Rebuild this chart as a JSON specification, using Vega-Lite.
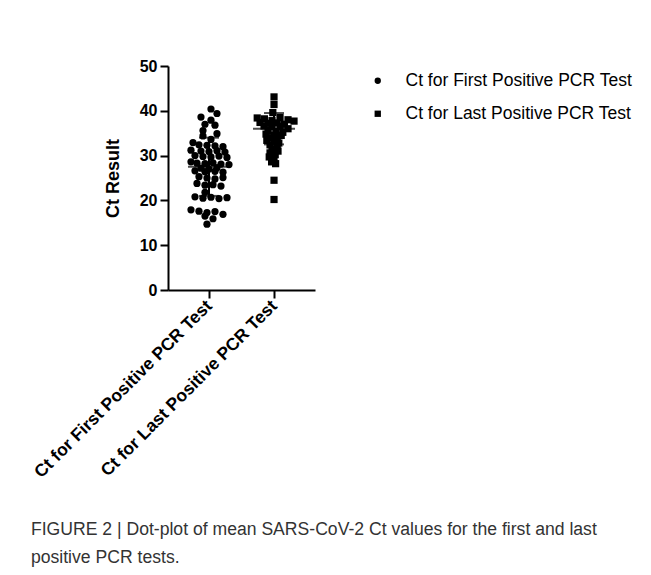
{
  "$schema": "https://vega.github.io/schema/vega-lite/v6.json",
  "width": 147,
  "height": 224,
  "padding": {"left": 30, "top": 58, "right": 5, "bottom": 5},
  "background": "white",
  "title": {
    "text": ["FIGURE 2 | Dot-plot of mean SARS-CoV-2 Ct values for the first and last", "positive PCR tests."],
    "orient": "bottom",
    "anchor": "start",
    "frame": "bounds",
    "fontSize": 17.6,
    "fontWeight": "normal",
    "font": "Liberation Sans",
    "color": "#333333",
    "lineHeight": 28,
    "offset": 40,
    "dx": 0
  },
  "datasets": {
    "points": [
      {"group": "Ct for First Positive PCR Test", "ct": 40.4, "offset": 0.5},
      {"group": "Ct for First Positive PCR Test", "ct": 39.4, "offset": 2},
      {"group": "Ct for First Positive PCR Test", "ct": 38.6, "offset": -2},
      {"group": "Ct for First Positive PCR Test", "ct": 37.9, "offset": 0.5},
      {"group": "Ct for First Positive PCR Test", "ct": 37.0, "offset": -1},
      {"group": "Ct for First Positive PCR Test", "ct": 36.8, "offset": 1.5},
      {"group": "Ct for First Positive PCR Test", "ct": 35.6, "offset": -1.5},
      {"group": "Ct for First Positive PCR Test", "ct": 34.9, "offset": 2},
      {"group": "Ct for First Positive PCR Test", "ct": 34.4, "offset": -1.5},
      {"group": "Ct for First Positive PCR Test", "ct": 33.6, "offset": 0.5},
      {"group": "Ct for First Positive PCR Test", "ct": 32.9, "offset": -4},
      {"group": "Ct for First Positive PCR Test", "ct": 32.4, "offset": -2.5},
      {"group": "Ct for First Positive PCR Test", "ct": 32.3, "offset": -0.5},
      {"group": "Ct for First Positive PCR Test", "ct": 32.2, "offset": 1.5},
      {"group": "Ct for First Positive PCR Test", "ct": 32.0, "offset": 3.5},
      {"group": "Ct for First Positive PCR Test", "ct": 31.2, "offset": -4.5},
      {"group": "Ct for First Positive PCR Test", "ct": 31.0, "offset": -2},
      {"group": "Ct for First Positive PCR Test", "ct": 30.9, "offset": 0},
      {"group": "Ct for First Positive PCR Test", "ct": 31.1, "offset": 2},
      {"group": "Ct for First Positive PCR Test", "ct": 30.8, "offset": 4},
      {"group": "Ct for First Positive PCR Test", "ct": 30.0, "offset": -3.5},
      {"group": "Ct for First Positive PCR Test", "ct": 29.8, "offset": -1.5},
      {"group": "Ct for First Positive PCR Test", "ct": 29.7, "offset": 0.5},
      {"group": "Ct for First Positive PCR Test", "ct": 29.9, "offset": 2.5},
      {"group": "Ct for First Positive PCR Test", "ct": 29.6, "offset": 4.5},
      {"group": "Ct for First Positive PCR Test", "ct": 28.6, "offset": -4.5},
      {"group": "Ct for First Positive PCR Test", "ct": 28.3, "offset": -3},
      {"group": "Ct for First Positive PCR Test", "ct": 28.2, "offset": -1},
      {"group": "Ct for First Positive PCR Test", "ct": 28.4, "offset": 1},
      {"group": "Ct for First Positive PCR Test", "ct": 28.1, "offset": 3},
      {"group": "Ct for First Positive PCR Test", "ct": 28.0, "offset": 5},
      {"group": "Ct for First Positive PCR Test", "ct": 27.2, "offset": -2},
      {"group": "Ct for First Positive PCR Test", "ct": 27.0, "offset": 0},
      {"group": "Ct for First Positive PCR Test", "ct": 27.3, "offset": 2},
      {"group": "Ct for First Positive PCR Test", "ct": 26.6, "offset": -3.5},
      {"group": "Ct for First Positive PCR Test", "ct": 26.4, "offset": -1},
      {"group": "Ct for First Positive PCR Test", "ct": 26.5, "offset": 1.5},
      {"group": "Ct for First Positive PCR Test", "ct": 26.3, "offset": 3.5},
      {"group": "Ct for First Positive PCR Test", "ct": 25.3, "offset": -2.5},
      {"group": "Ct for First Positive PCR Test", "ct": 25.0, "offset": -0.5},
      {"group": "Ct for First Positive PCR Test", "ct": 24.8, "offset": 1.5},
      {"group": "Ct for First Positive PCR Test", "ct": 25.1, "offset": 3.5},
      {"group": "Ct for First Positive PCR Test", "ct": 23.8, "offset": -3},
      {"group": "Ct for First Positive PCR Test", "ct": 23.4, "offset": -1},
      {"group": "Ct for First Positive PCR Test", "ct": 23.5, "offset": 1},
      {"group": "Ct for First Positive PCR Test", "ct": 23.2, "offset": 3},
      {"group": "Ct for First Positive PCR Test", "ct": 21.8, "offset": -1},
      {"group": "Ct for First Positive PCR Test", "ct": 20.8, "offset": -3.5},
      {"group": "Ct for First Positive PCR Test", "ct": 20.5, "offset": -1.5},
      {"group": "Ct for First Positive PCR Test", "ct": 20.7, "offset": 0.5},
      {"group": "Ct for First Positive PCR Test", "ct": 20.4, "offset": 2.5},
      {"group": "Ct for First Positive PCR Test", "ct": 20.6, "offset": 4.5},
      {"group": "Ct for First Positive PCR Test", "ct": 17.9, "offset": -4.5},
      {"group": "Ct for First Positive PCR Test", "ct": 17.6, "offset": -2.5},
      {"group": "Ct for First Positive PCR Test", "ct": 17.3, "offset": -0.5},
      {"group": "Ct for First Positive PCR Test", "ct": 17.5, "offset": 1.5},
      {"group": "Ct for First Positive PCR Test", "ct": 16.9, "offset": 3.5},
      {"group": "Ct for First Positive PCR Test", "ct": 16.5, "offset": -1},
      {"group": "Ct for First Positive PCR Test", "ct": 15.9, "offset": 1},
      {"group": "Ct for First Positive PCR Test", "ct": 14.7, "offset": -0.5},
      {"group": "Ct for Last Positive PCR Test", "ct": 43.1, "offset": 0},
      {"group": "Ct for Last Positive PCR Test", "ct": 41.4, "offset": 0},
      {"group": "Ct for Last Positive PCR Test", "ct": 39.6, "offset": -0.3},
      {"group": "Ct for Last Positive PCR Test", "ct": 38.4, "offset": -4.2},
      {"group": "Ct for Last Positive PCR Test", "ct": 38.2, "offset": -2.4},
      {"group": "Ct for Last Positive PCR Test", "ct": 38.5, "offset": 1.5},
      {"group": "Ct for Last Positive PCR Test", "ct": 38.0, "offset": 3.5},
      {"group": "Ct for Last Positive PCR Test", "ct": 37.8, "offset": -0.5},
      {"group": "Ct for Last Positive PCR Test", "ct": 37.7, "offset": 5},
      {"group": "Ct for Last Positive PCR Test", "ct": 37.4, "offset": -3.5},
      {"group": "Ct for Last Positive PCR Test", "ct": 37.2, "offset": -1.5},
      {"group": "Ct for Last Positive PCR Test", "ct": 37.3, "offset": 0.8},
      {"group": "Ct for Last Positive PCR Test", "ct": 37.0, "offset": 2.6},
      {"group": "Ct for Last Positive PCR Test", "ct": 36.6, "offset": -2.5},
      {"group": "Ct for Last Positive PCR Test", "ct": 36.4, "offset": -0.5},
      {"group": "Ct for Last Positive PCR Test", "ct": 36.5, "offset": 1.5},
      {"group": "Ct for Last Positive PCR Test", "ct": 36.0, "offset": 3.5},
      {"group": "Ct for Last Positive PCR Test", "ct": 35.6, "offset": -1.5},
      {"group": "Ct for Last Positive PCR Test", "ct": 35.4, "offset": 0.5},
      {"group": "Ct for Last Positive PCR Test", "ct": 35.2, "offset": 2.2},
      {"group": "Ct for Last Positive PCR Test", "ct": 34.8, "offset": -2},
      {"group": "Ct for Last Positive PCR Test", "ct": 34.6, "offset": 0},
      {"group": "Ct for Last Positive PCR Test", "ct": 34.5, "offset": 1.8},
      {"group": "Ct for Last Positive PCR Test", "ct": 34.0, "offset": -1},
      {"group": "Ct for Last Positive PCR Test", "ct": 33.8, "offset": 0.8},
      {"group": "Ct for Last Positive PCR Test", "ct": 33.4, "offset": -1.8},
      {"group": "Ct for Last Positive PCR Test", "ct": 33.2, "offset": 0},
      {"group": "Ct for Last Positive PCR Test", "ct": 32.8, "offset": 1.2},
      {"group": "Ct for Last Positive PCR Test", "ct": 32.4, "offset": -1},
      {"group": "Ct for Last Positive PCR Test", "ct": 32.0, "offset": 0.8},
      {"group": "Ct for Last Positive PCR Test", "ct": 31.5, "offset": -0.5},
      {"group": "Ct for Last Positive PCR Test", "ct": 31.0, "offset": 1},
      {"group": "Ct for Last Positive PCR Test", "ct": 30.6, "offset": -1},
      {"group": "Ct for Last Positive PCR Test", "ct": 30.2, "offset": 0.3},
      {"group": "Ct for Last Positive PCR Test", "ct": 29.7, "offset": -1.2},
      {"group": "Ct for Last Positive PCR Test", "ct": 29.2, "offset": 0},
      {"group": "Ct for Last Positive PCR Test", "ct": 28.6, "offset": -0.6},
      {"group": "Ct for Last Positive PCR Test", "ct": 28.2, "offset": 0.4},
      {"group": "Ct for Last Positive PCR Test", "ct": 24.5, "offset": 0},
      {"group": "Ct for Last Positive PCR Test", "ct": 20.2, "offset": 0}
    ],
    "summary": [
      {"group": "Ct for First Positive PCR Test", "mean": 27.5, "lo": 21.0, "hi": 34.0},
      {"group": "Ct for Last Positive PCR Test", "mean": 36.0, "lo": 32.5, "hi": 39.5}
    ]
  },
  "encoding": {
    "x": {
      "field": "group",
      "type": "nominal",
      "sort": ["Ct for First Positive PCR Test", "Ct for Last Positive PCR Test"],
      "scale": {"type": "point", "padding": 0.63},
      "axis": {
        "title": null,
        "labelAngle": -45,
        "labelAlign": "right",
        "labelBaseline": "middle",
        "labelLimit": 0,
        "labelFontSize": 17.5,
        "labelFontWeight": "bold",
        "labelFont": "Liberation Sans",
        "labelColor": "black",
        "domainColor": "black",
        "domainWidth": 2,
        "tickColor": "black",
        "tickWidth": 2,
        "tickSize": 8,
        "labelPadding": 5
      }
    }
  },
  "layer": [
    {
      "data": {"name": "points"},
      "mark": {"type": "point", "filled": true, "opacity": 1, "color": "black", "size": 52},
      "encoding": {
        "xOffset": {"field": "offset", "type": "quantitative", "scale": {"domain": [-5, 5], "range": [-20, 20]}},
        "y": {
          "field": "ct",
          "type": "quantitative",
          "scale": {"domain": [0, 50]},
          "axis": {
            "title": "Ct Result",
            "titleFontSize": 18,
            "titleFontWeight": "bold",
            "titleFont": "Liberation Sans",
            "titleColor": "black",
            "titlePadding": 17,
            "values": [0, 10, 20, 30, 40, 50],
            "grid": false,
            "labelFontSize": 16,
            "labelFontWeight": "bold",
            "labelFont": "Liberation Sans",
            "labelColor": "black",
            "domainColor": "black",
            "domainWidth": 2,
            "tickColor": "black",
            "tickWidth": 2,
            "tickSize": 8,
            "labelPadding": 3
          }
        },
        "shape": {
          "field": "group",
          "type": "nominal",
          "scale": {"range": ["circle", "square"]},
          "legend": {
            "title": null,
            "orient": "right",
            "offset": 48,
            "labelLimit": 0,
            "labelFontSize": 17.5,
            "labelFont": "Liberation Sans",
            "labelColor": "black",
            "symbolSize": 40,
            "symbolFillColor": "black",
            "symbolStrokeColor": "black",
            "rowPadding": 14,
            "labelOffset": 19,
            "padding": 6
          }
        }
      }
    },
    {
      "data": {"name": "summary"},
      "mark": {"type": "tick", "color": "black", "thickness": 2, "size": 42},
      "encoding": {"y": {"field": "mean", "type": "quantitative"}}
    },
    {
      "data": {"name": "summary"},
      "mark": {"type": "rule", "color": "black", "strokeWidth": 2},
      "encoding": {"y": {"field": "lo", "type": "quantitative"}, "y2": {"field": "hi"}}
    },
    {
      "data": {"name": "summary"},
      "mark": {"type": "tick", "color": "black", "thickness": 2, "size": 20},
      "encoding": {"y": {"field": "lo", "type": "quantitative"}}
    },
    {
      "data": {"name": "summary"},
      "mark": {"type": "tick", "color": "black", "thickness": 2, "size": 20},
      "encoding": {"y": {"field": "hi", "type": "quantitative"}}
    }
  ],
  "config": {
    "view": {"stroke": null},
    "font": "Liberation Sans"
  }
}
